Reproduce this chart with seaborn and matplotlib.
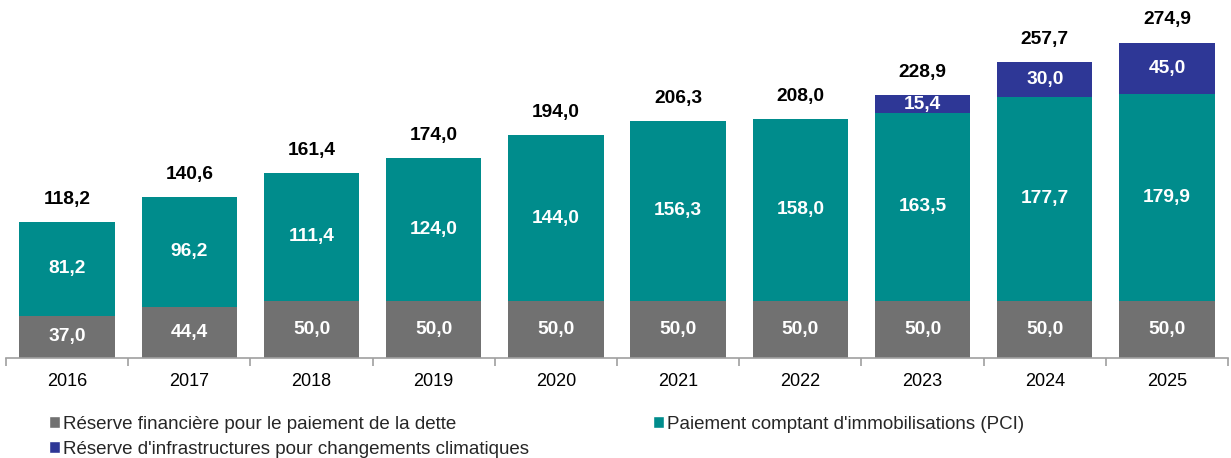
import matplotlib
matplotlib.use("Agg")
import matplotlib.pyplot as plt
import seaborn as sns
import numpy as np
import pandas as pd
from matplotlib.patches import Patch

years = ["2016", "2017", "2018", "2019", "2020", "2021", "2022", "2023", "2024", "2025"]
reserve_dette = [37.0, 44.4, 50.0, 50.0, 50.0, 50.0, 50.0, 50.0, 50.0, 50.0]
pci = [81.2, 96.2, 111.4, 124.0, 144.0, 156.3, 158.0, 163.5, 177.7, 179.9]
reserve_climat = [0.0, 0.0, 0.0, 0.0, 0.0, 0.0, 0.0, 15.4, 30.0, 45.0]
totals = [118.2, 140.6, 161.4, 174.0, 194.0, 206.3, 208.0, 228.9, 257.7, 274.9]

series_names = ["Réserve financière pour le paiement de la dette",
                "Paiement comptant d'immobilisations (PCI)",
                "Réserve d'infrastructures pour changements climatiques"]

c_grey = "#717171"
c_teal = "#008C8C"
c_navy = "#2E3796"

sns.set_theme(style="white")
plt.rcParams["font.family"] = ["Liberation Sans", "DejaVu Sans"]

df = pd.DataFrame({"year": years, "dette": reserve_dette, "pci": pci, "climat": reserve_climat})
df["cum2"] = df["dette"] + df["pci"]
df["cum3"] = df["cum2"] + df["climat"]

fig = plt.figure(figsize=(12.31, 4.58), dpi=100)
ax = fig.add_axes([6/1231, 100/458, 1222/1231, 358/458])

w = 0.78
sns.barplot(data=df, x="year", y="cum3", color=c_navy, width=w, saturation=1, ax=ax, linewidth=0)
sns.barplot(data=df, x="year", y="cum2", color=c_teal, width=w, saturation=1, ax=ax, linewidth=0)
sns.barplot(data=df, x="year", y="dette", color=c_grey, width=w, saturation=1, ax=ax, linewidth=0)

def fmt(v):
    return f"{v:.1f}".replace(".", ",")

fs = 13.8
for i in range(len(years)):
    d, p, c = reserve_dette[i], pci[i], reserve_climat[i]
    ax.text(i, d / 2, fmt(d), ha="center", va="center", color="white",
            fontsize=fs, fontweight="bold")
    ax.text(i, d + p / 2, fmt(p), ha="center", va="center", color="white",
            fontsize=fs, fontweight="bold")
    if c > 0:
        ax.text(i, d + p + c / 2, fmt(c), ha="center", va="center", color="white",
                fontsize=fs, fontweight="bold")
    ax.annotate(fmt(totals[i]), xy=(i, d + p + c), xytext=(0, 16.3),
                textcoords="offset points", ha="center", va="center",
                color="black", fontsize=fs, fontweight="bold")

ax.set_xlim(-0.5, len(years) - 0.5)
ax.set_ylim(0, 312)
ax.set_xlabel("")
ax.set_ylabel("")
ax.set_yticks([])
for s in ["left", "right", "top"]:
    ax.spines[s].set_visible(False)
ax.spines["bottom"].set_color("#A0A0A0")
ax.spines["bottom"].set_linewidth(1.2)
ax.set_xticks(np.arange(-0.5, len(years)), minor=True)
ax.tick_params(axis="x", which="minor", length=6, width=1.2, color="#A0A0A0", direction="out", bottom=True)
ax.tick_params(axis="x", which="major", length=0, labelsize=13, labelcolor="black", pad=11)

handles = [Patch(facecolor=c_grey, label=series_names[0]),
           Patch(facecolor=c_navy, label=series_names[2]),
           Patch(facecolor=c_teal, label=series_names[1])]
fig.legend(handles=handles, ncol=2, loc="upper left", bbox_to_anchor=(49/1231, 1 - 416/458),
           frameon=False, fontsize=13.5, handlelength=0.6, handleheight=0.6,
           handletextpad=0.15, columnspacing=6.6, labelspacing=0.4, borderaxespad=0,
           borderpad=0)

fig.savefig("out.png", dpi=100)
